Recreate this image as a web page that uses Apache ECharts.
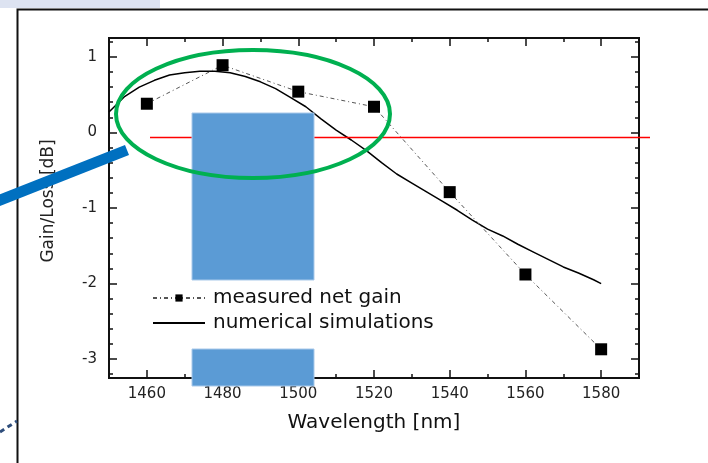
<!DOCTYPE html>
<html>
<head>
<meta charset="utf-8">
<script src="https://cdn.jsdelivr.net/npm/echarts@6/dist/echarts.min.js"></script>
<style>html,body{margin:0;padding:0;background:#fff;}#c{width:708px;height:463px;}</style>
</head>
<body>
<div id="c"></div>
<script>
// ---- data ----
var measuredWl   = [1460, 1480, 1500, 1520, 1540, 1560, 1580];
var measuredGain = [0.38, 0.89, 0.54, 0.34, -0.79, -1.88, -2.87];

var simWl   = [1450, 1454, 1458, 1462, 1466, 1470, 1474, 1478, 1482, 1486, 1490, 1494, 1498, 1502, 1506, 1510, 1514, 1518, 1522, 1526, 1530, 1534, 1538, 1542, 1546, 1550, 1554, 1558, 1562, 1566, 1570, 1574, 1578, 1580];
var simGain = [0.27, 0.47, 0.60, 0.69, 0.76, 0.79, 0.81, 0.81, 0.79, 0.74, 0.67, 0.58, 0.46, 0.34, 0.18, 0.03, -0.10, -0.24, -0.40, -0.55, -0.67, -0.79, -0.91, -1.03, -1.16, -1.28, -1.37, -1.48, -1.58, -1.68, -1.78, -1.86, -1.95, -2.00];

var xMajorTicks = [1460, 1480, 1500, 1520, 1540, 1560, 1580];
var xMinorTicks = [1450, 1460, 1470, 1480, 1490, 1500, 1510, 1520, 1530, 1540, 1550, 1560, 1570, 1580, 1590];
var yMajorTicks = [-3, -2, -1, 0, 1];
var yMinorTicks = [-3.2, -3.0, -2.8, -2.6, -2.4, -2.2, -2.0, -1.8, -1.6, -1.4, -1.2, -1.0, -0.8, -0.6, -0.4, -0.2, 0, 0.2, 0.4, 0.6, 0.8, 1.0, 1.2];

var seriesNames = ['measured net gain', 'numerical simulations'];

function pairs(xs, ys) { return xs.map(function (x, i) { return [x, ys[i]]; }); }

var FONT = 'DejaVu Sans';
var X_MIN = 1450, X_MAX = 1590, Y_MIN = -3.25, Y_MAX = 1.25;

function plain(v) { return String(v); }

function xAx(pos, custom, len, labels) {
  return {
    type: 'value', position: pos, min: X_MIN, max: X_MAX,
    axisLine: { show: true, onZero: false, lineStyle: { color: '#111', width: 2 } },
    axisTick: { show: true, inside: true, length: len, customValues: custom, lineStyle: { color: '#111', width: 1.5 } },
    axisLabel: labels ? { show: true, customValues: xMajorTicks, formatter: plain, margin: 9, color: '#222', fontFamily: FONT, fontSize: 15 } : { show: false },
    splitLine: { show: false }
  };
}
function yAx(pos, custom, len, labels) {
  return {
    type: 'value', position: pos, min: Y_MIN, max: Y_MAX,
    axisLine: { show: true, onZero: false, lineStyle: { color: '#111', width: 2 } },
    axisTick: { show: true, inside: true, length: len, customValues: custom, lineStyle: { color: '#111', width: 1.5 } },
    axisLabel: labels ? { show: true, customValues: yMajorTicks, formatter: plain, margin: 12, color: '#222', fontFamily: FONT, fontSize: 15 } : { show: false },
    splitLine: { show: false }
  };
}

var xAxes = [xAx('bottom', xMajorTicks, 8, true), xAx('bottom', xMinorTicks, 4, false), xAx('top', xMajorTicks, 8, false), xAx('top', xMinorTicks, 4, false)];
xAxes[0].name = 'Wavelength [nm]';
xAxes[0].nameLocation = 'middle';
xAxes[0].nameGap = 35;
xAxes[0].nameTextStyle = { fontFamily: FONT, fontSize: 20, color: '#111' };

var yAxes = [yAx('left', yMajorTicks, 8, true), yAx('left', yMinorTicks, 4, false), yAx('right', yMajorTicks, 8, false), yAx('right', yMinorTicks, 4, false)];
yAxes[0].name = 'Gain/Loss [dB]';
yAxes[0].nameLocation = 'middle';
yAxes[0].nameGap = 52;
yAxes[0].nameTextStyle = { fontFamily: FONT, fontSize: 17, color: '#222', padding: [0, 0, 0, 14] };

var chart = echarts.init(document.getElementById('c'), null, { renderer: 'canvas' });
chart.setOption({
  animation: false,
  backgroundColor: '#fff',
  grid: { left: 109, right: 69, top: 38, bottom: 85, containLabel: false },
  xAxis: xAxes,
  yAxis: yAxes,
  legend: {
    orient: 'vertical', left: 152, top: 288, padding: 0, itemWidth: 52, itemHeight: 9, itemGap: 5,
    data: [
      { name: seriesNames[0] },
      { name: seriesNames[1], itemStyle: { opacity: 0 } }
    ],
    textStyle: { fontFamily: FONT, fontSize: 20, color: '#111', padding: [0, 0, 0, 3] }
  },
  series: [
    {
      name: seriesNames[0], type: 'line', data: pairs(measuredWl, measuredGain),
      symbol: 'rect', symbolSize: 12, z: 4,
      itemStyle: { color: '#000' },
      lineStyle: { color: '#555', width: 1, type: [4, 3, 1, 3] }
    },
    {
      name: seriesNames[1], type: 'line', data: pairs(simWl, simGain),
      symbol: 'none', z: 3,
      itemStyle: { color: '#000' },
      lineStyle: { color: '#000', width: 1.5 }
    }
  ],
  graphic: [
    { type: 'rect', z: 50, shape: { x: 0, y: 0, width: 160, height: 8 }, style: { fill: '#dde3f1' } },
    { type: 'polyline', z: 50, shape: { points: [[17.5, 463], [17.5, 9.5], [708, 9.5]] }, style: { stroke: '#111', lineWidth: 2, fill: null } },
    { type: 'line', z: 50, shape: { x1: 0, y1: 432, x2: 17, y2: 421 }, style: { stroke: '#2e4d7b', lineWidth: 3, lineDash: [5, 4] } },
    { type: 'line', z: 50, shape: { x1: 150, y1: 137.5, x2: 650, y2: 137.5 }, style: { stroke: '#ff0000', lineWidth: 1.5 } },
    { type: 'rect', z: 51, shape: { x: 192, y: 113, width: 122, height: 167 }, style: { fill: '#5b9bd5', stroke: '#a9c9ea', lineWidth: 1 } },
    { type: 'rect', z: 51, shape: { x: 192, y: 349, width: 122, height: 37 }, style: { fill: '#5b9bd5', stroke: '#a9c9ea', lineWidth: 1 } },
    { type: 'ellipse', z: 52, shape: { cx: 253, cy: 114, rx: 137, ry: 64 }, style: { stroke: '#00b050', lineWidth: 4, fill: null } },
    { type: 'line', z: 52, shape: { x1: -2, y1: 201, x2: 127, y2: 150 }, style: { stroke: '#0070c0', lineWidth: 11 } }
  ]
});
</script>
</body>
</html>
